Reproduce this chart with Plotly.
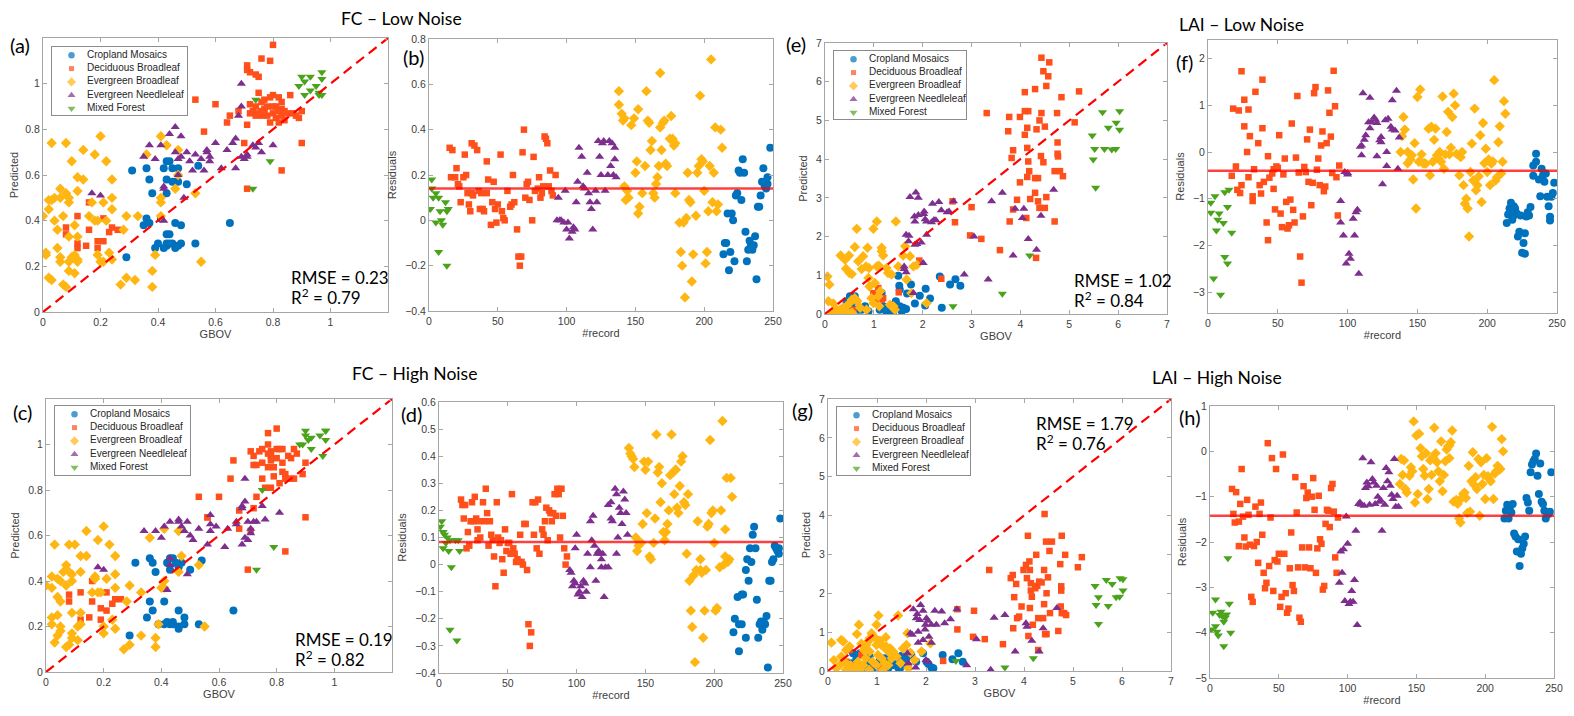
"""Eight-panel validation figure: predicted vs GBOV and residuals per record."""

import plotly.graph_objects as go

W, H = 1574, 716
PAGE_PAD = 8  # default body margin of the written page
FIG_W, FIG_H = W - 2 * PAGE_PAD, H - 2 * PAGE_PAD

CLASSES = ["Cropland Mosaics", "Deciduous Broadleaf", "Evergreen Broadleaf",
           "Evergreen Needleleaf", "Mixed Forest"]
COLORS = ["#0072BD", "#FF4F1A", "#FFB612", "#7E2F8E", "#4BA31C"]
SYMBOLS = ["circle", "square", "diamond", "triangle-up", "triangle-down"]
SIZES = [8, 6.5, 8, 8, 8]
LEGEND_SIZES = [6.5, 5, 7, 7, 7]

# ---------------- (a) FC - low noise: (GBOV, predicted) ----------------
A_CROP = [(0.31, 0.62), (0.36, 0.63), (0.37, 0.58), (0.38, 0.52), (0.42, 0.63), (0.43, 0.66),
          (0.44, 0.66), (0.45, 0.63), (0.43, 0.58), (0.45, 0.57), (0.46, 0.57), (0.47, 0.57),
          (0.47, 0.63), (0.50, 0.56), (0.54, 0.64), (0.43, 0.52), (0.36, 0.41), (0.35, 0.38),
          (0.37, 0.39), (0.41, 0.41), (0.46, 0.39), (0.48, 0.38), (0.39, 0.28), (0.40, 0.30),
          (0.42, 0.28), (0.43, 0.30), (0.44, 0.34), (0.43, 0.34), (0.45, 0.30), (0.46, 0.28),
          (0.47, 0.29), (0.48, 0.30), (0.53, 0.30), (0.29, 0.24), (0.65, 0.39), (0.44, 0.30),
          (0.43, 0.29)]
A_DEC = [(0.53, 0.93), (0.60, 0.91), (0.64, 0.83), (0.65, 0.86), (0.56, 0.79), (0.68, 0.88),
         (0.71, 1.08), (0.71, 1.06), (0.72, 1.05), (0.74, 1.04), (0.75, 1.03), (0.76, 1.11),
         (0.79, 1.10), (0.80, 1.17), (0.71, 0.82), (0.70, 0.74), (0.71, 0.54), (0.83, 0.62),
         (0.90, 0.74), (0.86, 0.95), (0.90, 0.88), (0.89, 0.85), (0.84, 0.84), (0.82, 0.83),
         (0.72, 0.87), (0.73, 0.88), (0.74, 0.90), (0.75, 0.96), (0.76, 0.92), (0.77, 0.93),
         (0.78, 0.90), (0.79, 0.94), (0.80, 0.95), (0.81, 0.90), (0.82, 0.94), (0.83, 0.89),
         (0.84, 0.88), (0.85, 0.87), (0.87, 0.87), (0.74, 0.87), (0.76, 0.88), (0.78, 0.86),
         (0.80, 0.87), (0.81, 0.85), (0.82, 0.88), (0.79, 0.83), (0.76, 0.86), (0.74, 0.86),
         (0.88, 0.86), (0.77, 0.88), (0.83, 0.86), (0.80, 0.90), (0.72, 0.91), (0.77, 0.89),
         (0.83, 0.92), (0.08, 0.37), (0.08, 0.34), (0.12, 0.42), (0.12, 0.30), (0.12, 0.28),
         (0.15, 0.29), (0.16, 0.48), (0.16, 0.36), (0.19, 0.31), (0.19, 0.28), (0.21, 0.41),
         (0.21, 0.31), (0.23, 0.35), (0.24, 0.37), (0.26, 0.36)]
A_EB = [(0.00, 0.42), (0.02, 0.45), (0.02, 0.49), (0.03, 0.49), (0.03, 0.74), (0.08, 0.74),
        (0.10, 0.66), (0.14, 0.71), (0.20, 0.77), (0.18, 0.69), (0.22, 0.66), (0.14, 0.58),
        (0.12, 0.59), (0.06, 0.54), (0.04, 0.50), (0.06, 0.50), (0.08, 0.52), (0.09, 0.50),
        (0.09, 0.48), (0.12, 0.53), (0.17, 0.48), (0.21, 0.48), (0.24, 0.58), (0.24, 0.50),
        (0.24, 0.45), (0.16, 0.42), (0.18, 0.40), (0.19, 0.40), (0.04, 0.40), (0.07, 0.42),
        (0.05, 0.36), (0.09, 0.33), (0.11, 0.38), (0.12, 0.33), (0.29, 0.42), (0.33, 0.42),
        (0.28, 0.36), (0.22, 0.40), (0.05, 0.28), (0.01, 0.26), (0.01, 0.25), (0.06, 0.24),
        (0.06, 0.22), (0.09, 0.22), (0.10, 0.24), (0.11, 0.25), (0.12, 0.23), (0.12, 0.22),
        (0.09, 0.18), (0.11, 0.17), (0.19, 0.25), (0.20, 0.22), (0.23, 0.26), (0.24, 0.23),
        (0.02, 0.15), (0.03, 0.14), (0.07, 0.12), (0.08, 0.11), (0.27, 0.12), (0.29, 0.15),
        (0.32, 0.14), (0.38, 0.18), (0.38, 0.11), (0.39, 0.25), (0.55, 0.22), (0.41, 0.77),
        (0.43, 0.73), (0.36, 0.69), (0.47, 0.71), (0.47, 0.60), (0.46, 0.54), (0.41, 0.50),
        (0.41, 0.48), (0.41, 0.42), (0.53, 0.52), (0.21, 0.22)]
A_EN = [(0.35, 0.68), (0.37, 0.73), (0.39, 0.67), (0.41, 0.73), (0.44, 0.78), (0.46, 0.81),
        (0.48, 0.77), (0.46, 0.70), (0.47, 0.67), (0.48, 0.68), (0.50, 0.70), (0.51, 0.66),
        (0.53, 0.69), (0.55, 0.67), (0.56, 0.62), (0.57, 0.70), (0.58, 0.68), (0.58, 0.66),
        (0.60, 0.74), (0.62, 0.63), (0.64, 0.71), (0.66, 0.74), (0.67, 0.76), (0.67, 0.63),
        (0.69, 0.68), (0.70, 0.67), (0.71, 0.68), (0.73, 0.73), (0.75, 0.74), (0.76, 0.70),
        (0.80, 0.73), (0.69, 0.90), (0.69, 1.00), (0.68, 0.86), (0.17, 0.52), (0.20, 0.51),
        (0.42, 0.54), (0.42, 0.55), (0.49, 0.50), (0.42, 0.40), (0.52, 0.62), (0.47, 0.60),
        (0.57, 0.71), (0.74, 0.72), (0.71, 0.69)]
A_MF = [(0.89, 0.99), (0.90, 1.03), (0.91, 1.01), (0.93, 1.03), (0.91, 0.95), (0.93, 0.97),
        (0.95, 0.99), (0.96, 0.95), (0.97, 0.95), (0.97, 1.02), (0.97, 1.05), (0.74, 0.93),
        (0.73, 0.54), (0.79, 0.66), (0.96, 0.96)]

# ---------------- (b) FC - low noise: (record, residual) ----------------
B_CROP = [(214, -0.15), (215, -0.10), (216, -0.10), (217, 0.03), (218, -0.22), (219, -0.14),
          (220, 0.03), (221, 0.00), (222, -0.18), (223, 0.11), (224, 0.12), (225, 0.22),
          (226, 0.21), (227, 0.09), (228, 0.27), (229, 0.21), (230, -0.05), (231, -0.18),
          (232, -0.13), (233, -0.09), (234, -0.11), (235, -0.13), (236, -0.11), (237, -0.07),
          (238, -0.26), (239, 0.06), (240, 0.06), (241, 0.11), (242, 0.17), (243, 0.23),
          (244, 0.15), (245, 0.14), (246, 0.19), (248, 0.32), (246, 0.16)]
B_DEC = [(15, 0.32), (17, 0.31), (16, 0.19), (19, 0.19), (20, 0.23), (21, 0.16), (22, 0.15),
         (23, 0.08), (25, 0.19), (26, 0.29), (27, 0.20), (28, 0.12), (29, 0.07), (30, 0.04),
         (31, 0.12), (31, 0.34), (32, 0.11), (33, 0.33), (35, 0.31), (36, 0.13), (37, 0.05),
         (38, 0.12), (39, 0.05), (40, 0.04), (42, 0.26), (42, 0.12), (43, 0.18), (45, -0.02),
         (46, 0.08), (47, 0.17), (48, 0.05), (49, -0.01), (50, 0.07), (52, 0.29), (53, 0.04),
         (54, 0.01), (55, 0.00), (57, 0.13), (59, 0.06), (60, 0.07), (61, 0.20), (62, 0.08),
         (64, -0.04), (65, -0.16), (66, -0.20), (67, -0.16), (68, 0.30), (69, 0.40), (70, 0.10),
         (71, 0.16), (72, 0.17), (73, 0.09), (75, 0.00), (76, 0.28), (77, 0.13), (79, 0.14),
         (80, 0.19), (81, 0.10), (82, 0.12), (83, 0.15), (84, 0.37), (85, 0.36), (86, 0.34),
         (87, 0.15), (88, 0.22), (89, 0.13), (90, 0.11), (92, 0.20)]
B_EB = [(138, 0.57), (138, 0.51), (140, 0.47), (141, 0.44), (142, 0.45), (142, 0.15), (143, 0.09),
        (144, 0.13), (145, 0.10), (147, 0.42), (149, 0.45), (150, 0.21), (151, 0.26), (152, 0.49),
        (152, 0.03), (153, 0.06), (155, 0.12), (157, 0.24), (158, 0.57), (159, 0.44), (160, 0.43),
        (161, 0.31), (162, 0.35), (163, 0.12), (164, 0.10), (165, 0.16), (166, 0.19), (167, 0.24),
        (168, 0.65), (168, 0.41), (169, 0.31), (170, 0.43), (171, 0.44), (172, 0.25), (173, 0.24),
        (175, 0.36), (176, 0.46), (177, 0.36), (178, 0.33), (179, 0.34), (179, 0.12), (182, -0.01),
        (183, -0.14), (184, -0.20), (185, -0.01), (186, -0.34), (187, 0.01), (188, 0.21),
        (189, 0.09), (190, 0.08), (191, -0.27), (192, -0.15), (194, 0.02), (195, 0.21),
        (196, 0.24), (197, 0.55), (198, 0.27), (199, 0.26), (200, 0.13), (201, -0.19),
        (202, -0.14), (203, 0.04), (204, 0.24), (205, 0.71), (206, 0.08), (207, 0.21), (208, 0.41),
        (209, 0.04), (210, 0.07), (212, 0.40), (213, 0.32)]
B_EN = [(94, 0.10), (93, 0.00), (95, 0.00), (96, 0.00), (98, -0.01), (99, 0.13), (100, -0.04),
        (101, -0.01), (102, -0.08), (104, -0.05), (105, -0.03), (106, -0.04), (107, 0.08),
        (108, 0.17), (109, 0.32), (111, 0.28), (112, 0.15), (113, 0.14), (115, 0.21), (116, 0.12),
        (117, 0.08), (118, 0.05), (119, -0.04), (121, 0.13), (122, 0.08), (123, 0.35), (124, 0.28),
        (125, 0.20), (126, 0.34), (127, 0.35), (128, 0.13), (130, 0.20), (131, 0.35), (132, 0.24),
        (133, 0.34), (134, 0.20), (135, 0.32), (135, 0.27), (136, 0.19)]
B_MF = [(1, 0.05), (2, 0.18), (2, 0.14), (3, 0.10), (5, 0.12), (5, -0.01), (7, 0.10), (8, 0.04),
        (9, 0.00), (10, -0.02), (12, 0.08), (13, 0.04), (14, 0.05), (7, -0.14), (13, -0.20)]

# ---------------- (e) LAI - low noise: (GBOV, predicted) ----------------
E_CROP = [(1.50, 0.99), (1.52, 0.73), (1.53, 0.63), (1.45, 0.33), (1.40, 0.20), (1.53, 0.20),
          (1.60, 0.16), (1.66, 0.13), (1.76, 0.76), (1.68, 0.53), (1.94, 0.47), (2.06, 0.65),
          (2.15, 0.40), (2.05, 0.22), (2.35, 0.97), (2.39, 0.16), (2.56, 0.76), (2.67, 0.90),
          (2.77, 0.73), (0.51, 0.46), (0.61, 0.46), (0.65, 0.33), (0.75, 0.11), (0.82, 0.20),
          (0.89, 0.07), (1.12, 0.11), (1.19, 0.20), (1.26, 0.04), (1.40, 0.07), (0.55, 0.16),
          (0.68, 0.11), (0.44, 0.33), (1.16, 0.54), (1.06, 0.39), (1.33, 0.09), (1.84, 0.27),
          (1.57, 0.07)]
E_DEC = [(3.31, 5.19), (3.77, 5.09), (3.99, 5.09), (4.09, 5.24), (4.16, 5.24), (4.14, 4.81),
         (4.09, 4.63), (4.14, 4.29), (4.16, 3.94), (4.18, 3.69), (4.14, 3.54), (4.20, 2.97),
         (4.30, 3.13), (4.30, 3.51), (4.33, 4.77), (4.39, 5.00), (4.43, 5.19), (4.43, 6.62),
         (4.47, 6.27), (4.57, 6.14), (4.59, 6.50), (4.53, 5.89), (4.30, 5.81), (4.09, 5.73),
         (4.50, 4.84), (4.42, 4.08), (4.47, 3.92), (4.36, 3.51), (4.36, 2.91), (4.39, 2.74),
         (4.50, 2.74), (4.53, 3.02), (4.75, 5.19), (4.76, 4.43), (4.76, 4.14), (4.77, 4.07),
         (4.70, 3.69), (4.81, 3.69), (4.87, 3.56), (4.84, 5.60), (5.11, 4.95), (5.20, 5.75),
         (3.75, 4.72), (3.82, 4.03), (3.85, 4.23), (3.93, 2.95), (3.99, 3.40), (3.85, 2.70),
         (3.78, 2.39), (4.12, 2.48), (4.32, 1.45), (4.70, 2.39), (3.00, 2.76), (2.97, 2.03),
         (3.20, 1.94), (3.58, 1.65), (2.66, 2.37), (2.61, 2.91), (1.93, 1.38), (2.38, 0.91),
         (1.51, 0.56), (1.09, 0.67), (0.99, 0.54), (1.06, 0.46), (1.16, 0.37), (1.02, 0.33),
         (0.52, 0.03), (0.58, 0.11), (1.19, 0.41)]
E_EB = [(0.07, 0.33), (0.17, 0.27), (0.05, 0.97), (0.09, 0.76), (0.32, 1.51), (0.41, 1.40),
        (0.49, 1.51), (0.43, 1.17), (0.65, 2.20), (0.61, 1.73), (0.68, 1.36), (0.50, 1.06),
        (0.55, 1.03), (0.75, 1.16), (0.78, 1.49), (0.87, 1.71), (0.84, 1.23), (0.90, 1.19),
        (0.91, 0.71), (0.99, 2.20), (1.06, 2.39), (1.06, 1.23), (1.10, 1.25), (1.16, 1.71),
        (1.19, 1.51), (1.16, 1.62), (1.26, 1.19), (1.29, 1.06), (1.36, 1.02), (1.45, 2.39),
        (1.50, 1.23), (1.60, 1.51), (1.64, 1.75), (1.67, 0.89), (1.74, 1.49), (1.81, 1.23),
        (1.88, 1.27), (1.77, 0.54), (2.08, 0.28), (1.13, 0.59), (0.20, 0.07), (0.31, 0.11),
        (0.37, 0.16), (0.44, 0.20), (0.50, 0.28), (0.55, 0.37), (0.61, 0.41), (0.66, 0.33),
        (0.44, 0.07), (0.55, 0.04), (0.24, 0.11), (0.72, 0.16), (0.85, 0.11), (1.11, 0.20),
        (1.40, 0.20), (1.43, 0.11), (1.33, 0.24), (0.99, 0.28), (0.95, 0.41), (1.09, 0.46),
        (0.34, 0.03), (0.15, 0.03), (1.02, 0.80), (0.89, 0.93)]
E_EN = [(1.74, 3.02), (1.86, 3.14), (1.91, 3.00), (1.83, 2.52), (1.84, 2.39), (1.91, 2.56),
        (2.02, 2.58), (2.03, 2.65), (2.05, 2.45), (2.08, 2.39), (2.18, 2.37), (2.20, 2.85),
        (2.23, 2.43), (2.27, 2.42), (2.33, 2.89), (2.38, 2.68), (2.50, 2.63), (2.54, 2.65),
        (2.63, 2.91), (1.66, 2.05), (1.72, 2.02), (1.71, 1.88), (1.84, 1.79), (1.88, 1.81),
        (1.97, 1.85), (2.08, 2.05), (1.62, 1.23), (1.66, 1.08), (2.01, 1.32), (1.81, 0.54),
        (3.05, 2.00), (3.41, 2.91), (3.63, 3.13), (3.89, 2.72), (3.85, 1.51), (4.07, 2.72),
        (4.04, 2.48), (4.16, 1.94), (4.42, 2.54), (4.33, 1.66), (4.68, 3.21), (3.34, 0.89),
        (2.85, 1.02), (1.62, 1.16)]
E_MF = [(5.47, 4.61), (5.68, 5.21), (5.80, 4.81), (5.52, 4.26), (5.49, 3.99), (5.72, 4.26),
        (5.87, 4.25), (5.95, 4.26), (5.96, 4.94), (6.03, 5.24), (6.03, 4.76), (5.54, 3.26),
        (4.19, 1.51), (3.63, 0.52), (2.62, 0.20)]

# ---------------- (f) LAI - low noise: (record, residual) ----------------
F_CROP = [(214, -1.52), (215, -1.34), (216, -1.21), (217, -1.09), (218, -1.45), (219, -1.16),
          (219, -1.36), (220, -1.21), (221, -1.31), (222, -1.81), (223, -1.71), (224, -1.36),
          (225, -2.16), (226, -1.95), (227, -2.18), (227, -1.74), (228, -1.38), (229, -1.29),
          (230, -1.36), (231, -1.18), (233, -0.51), (233, -0.29), (235, -0.21), (235, -0.04),
          (237, -0.59), (238, -0.95), (239, -0.36), (240, -0.50), (241, -0.64), (242, -0.46),
          (243, -0.96), (244, -1.16), (245, -1.39), (246, -0.96), (247, -0.88), (248, -0.66),
          (245, -1.47)]
F_DEC = [(17, -0.51), (18, 0.93), (20, -0.31), (21, -0.81), (22, 0.89), (23, -0.88), (24, -0.71),
         (24, 1.73), (26, 1.12), (26, 0.55), (28, 0.00), (29, -0.54), (29, 0.91), (30, 0.34),
         (32, -0.95), (32, -1.05), (33, -0.37), (34, 1.29), (36, 0.19), (37, -0.71), (38, -0.89),
         (39, 1.55), (39, 0.51), (40, -0.64), (42, -1.51), (43, -1.89), (43, -0.09), (44, -0.55),
         (46, -0.46), (47, -0.37), (47, -0.79), (48, -1.23), (49, -0.31), (50, -0.34), (51, 0.36),
         (52, -1.32), (53, -1.61), (54, -0.48), (55, -0.14), (56, -1.07), (57, -1.64), (58, -1.57),
         (59, -1.02), (60, 0.61), (61, -1.24), (62, -1.51), (63, -0.12), (64, 1.20), (65, -0.44),
         (66, -2.24), (67, -2.80), (68, -1.38), (69, -0.32), (70, -0.43), (71, 0.27), (72, -0.64),
         (73, 0.48), (74, -1.14), (75, -0.66), (76, 1.26), (77, 1.39), (78, -0.38), (79, -0.14),
         (80, -0.71), (81, 0.14), (82, 0.44), (83, -0.84), (84, -0.74), (85, 0.19), (86, 1.32),
         (87, 0.84), (88, 0.33), (89, -0.45), (90, 1.74), (91, 0.98), (92, -0.54), (93, -1.36),
         (94, -0.29)]
F_EB = [(138, 0.00), (139, 0.34), (140, 0.75), (141, 0.48), (143, 0.00), (143, -0.24), (145, -0.16),
        (146, -0.07), (147, -0.59), (148, 0.19), (149, -1.21), (150, 1.18), (151, -0.21),
        (152, 1.34), (153, -0.05), (154, -0.24), (155, -0.24), (156, -0.25), (158, 0.50),
        (159, -0.50), (160, 0.54), (161, -0.21), (162, 0.26), (163, 0.50), (164, -0.07),
        (165, -0.14), (166, 0.00), (167, -0.21), (168, 1.19), (169, -0.36), (170, -0.05),
        (171, 0.43), (172, 0.86), (173, -0.05), (174, 0.09), (175, 0.75), (176, 1.25), (177, 1.00),
        (178, -0.04), (180, -0.50), (181, -0.11), (182, 0.00), (183, -0.71), (184, -1.11),
        (185, -1.00), (186, -1.21), (187, -1.81), (188, -0.43), (189, 0.18), (190, -0.61),
        (191, 0.93), (192, -0.82), (193, -0.71), (194, -0.52), (195, 0.36), (196, -1.07),
        (197, 0.62), (198, -0.24), (199, 0.07), (200, -0.43), (201, -0.16), (202, -0.71),
        (203, -0.25), (204, -0.20), (205, 1.54), (206, -0.61), (207, -0.54), (208, 0.21),
        (209, 0.55), (210, -0.46), (211, -0.21), (212, 1.09), (213, 0.82)]
F_EN = [(95, -1.05), (95, -1.51), (97, -1.79), (98, -0.43), (99, -2.39), (100, -0.48), (100, -0.45),
        (101, -2.18), (102, -2.29), (104, -1.43), (105, -1.79), (106, -1.29), (107, -1.24),
        (108, -2.61), (109, 0.11), (110, 0.14), (110, -0.07), (111, 1.26), (112, 0.26), (113, 0.36),
        (115, 0.64), (116, 0.51), (116, 1.16), (117, 0.64), (119, 0.74), (120, 0.69), (121, -0.09),
        (121, 0.62), (123, 0.25), (124, 0.32), (124, 0.21), (125, -0.69), (127, 0.68), (128, 0.00),
        (128, -0.30), (129, 0.71), (131, 0.54), (132, 0.48), (132, 1.11), (134, 0.46), (135, 1.31),
        (136, -0.36), (137, 0.31)]
F_MF = [(2, -1.09), (2, -1.30), (4, -2.71), (5, -0.95), (7, -1.45), (8, -1.32), (6, -1.68),
        (9, -3.06), (11, -1.52), (12, -0.86), (12, -2.25), (14, -1.18), (14, -2.39), (15, -0.81),
        (17, -1.73)]

# ---------------- (c) FC - high noise: (GBOV, predicted) ----------------
C_CROP = [(0.31, 0.48), (0.36, 0.50), (0.37, 0.48), (0.38, 0.44), (0.42, 0.48), (0.43, 0.50),
          (0.44, 0.50), (0.45, 0.48), (0.46, 0.46), (0.47, 0.48), (0.50, 0.45), (0.54, 0.49),
          (0.43, 0.45), (0.36, 0.31), (0.41, 0.31), (0.37, 0.27), (0.35, 0.24), (0.39, 0.21),
          (0.41, 0.21), (0.42, 0.22), (0.44, 0.22), (0.44, 0.21), (0.46, 0.20), (0.46, 0.19),
          (0.48, 0.21), (0.48, 0.24), (0.46, 0.27), (0.53, 0.21), (0.29, 0.16), (0.65, 0.27),
          (0.43, 0.21)]
C_DEC = [(0.65, 0.93), (0.64, 0.85), (0.53, 0.77), (0.60, 0.77), (0.56, 0.68), (0.67, 0.71),
         (0.67, 0.63), (0.71, 0.62), (0.70, 0.45), (0.72, 0.72), (0.73, 0.77), (0.71, 0.97),
         (0.72, 0.95), (0.73, 0.91), (0.74, 0.97), (0.75, 0.98), (0.75, 0.85), (0.76, 0.81),
         (0.77, 0.90), (0.77, 1.05), (0.77, 1.00), (0.78, 0.97), (0.78, 0.95), (0.78, 0.81),
         (0.79, 0.90), (0.79, 0.86), (0.80, 0.98), (0.80, 1.07), (0.80, 0.94), (0.81, 0.83),
         (0.81, 0.98), (0.82, 0.92), (0.82, 0.88), (0.83, 0.87), (0.83, 0.85), (0.84, 0.95),
         (0.85, 0.85), (0.86, 0.85), (0.86, 0.98), (0.87, 0.96), (0.89, 0.87), (0.90, 0.92),
         (0.90, 0.68), (0.83, 0.53), (0.82, 0.98), (0.78, 0.93), (0.72, 0.91), (0.77, 0.96),
         (0.85, 0.94), (0.75, 0.92), (0.08, 0.34), (0.08, 0.31), (0.12, 0.35), (0.12, 0.23),
         (0.15, 0.24), (0.16, 0.40), (0.16, 0.31), (0.19, 0.28), (0.19, 0.23), (0.21, 0.35),
         (0.21, 0.27), (0.23, 0.30), (0.24, 0.32), (0.26, 0.32), (0.56, 0.68)]
C_EB = [(0.00, 0.38), (0.02, 0.37), (0.02, 0.42), (0.03, 0.56), (0.04, 0.41), (0.05, 0.40),
        (0.06, 0.44), (0.07, 0.47), (0.07, 0.38), (0.08, 0.44), (0.08, 0.56), (0.09, 0.40),
        (0.10, 0.56), (0.09, 0.43), (0.12, 0.51), (0.12, 0.44), (0.14, 0.62), (0.14, 0.51),
        (0.18, 0.58), (0.20, 0.64), (0.22, 0.56), (0.24, 0.51), (0.17, 0.41), (0.17, 0.42),
        (0.18, 0.35), (0.19, 0.35), (0.21, 0.41), (0.16, 0.35), (0.24, 0.43), (0.24, 0.37),
        (0.04, 0.33), (0.05, 0.31), (0.04, 0.25), (0.02, 0.24), (0.02, 0.21), (0.04, 0.16),
        (0.03, 0.13), (0.05, 0.20), (0.05, 0.18), (0.07, 0.11), (0.08, 0.12), (0.09, 0.15),
        (0.09, 0.17), (0.09, 0.26), (0.11, 0.20), (0.11, 0.14), (0.12, 0.21), (0.12, 0.26),
        (0.20, 0.20), (0.20, 0.17), (0.23, 0.23), (0.24, 0.19), (0.28, 0.31), (0.29, 0.38),
        (0.29, 0.12), (0.27, 0.10), (0.33, 0.16), (0.33, 0.35), (0.38, 0.15), (0.38, 0.11),
        (0.36, 0.59), (0.39, 0.21), (0.40, 0.37), (0.41, 0.40), (0.41, 0.37), (0.46, 0.44),
        (0.47, 0.51), (0.46, 0.62), (0.53, 0.47), (0.55, 0.20), (0.41, 0.63)]
C_EN = [(0.34, 0.62), (0.38, 0.62), (0.40, 0.59), (0.41, 0.64), (0.43, 0.66), (0.46, 0.67),
        (0.46, 0.66), (0.47, 0.64), (0.49, 0.66), (0.48, 0.62), (0.50, 0.60), (0.51, 0.58),
        (0.53, 0.63), (0.57, 0.69), (0.57, 0.65), (0.56, 0.56), (0.57, 0.62), (0.59, 0.64),
        (0.62, 0.55), (0.63, 0.63), (0.66, 0.66), (0.68, 0.56), (0.68, 0.73), (0.69, 0.75),
        (0.70, 0.66), (0.71, 0.61), (0.71, 0.63), (0.72, 0.66), (0.73, 0.66), (0.75, 0.73),
        (0.76, 0.67), (0.81, 0.70), (0.69, 0.85), (0.18, 0.46), (0.20, 0.45), (0.43, 0.50),
        (0.43, 0.47), (0.42, 0.36), (0.49, 0.43), (0.69, 0.59), (0.68, 0.72), (0.66, 0.65),
        (0.70, 0.58)]
C_MF = [(0.90, 1.06), (0.90, 1.04), (0.89, 1.00), (0.91, 1.02), (0.92, 1.03), (0.95, 1.04),
        (0.97, 1.06), (0.97, 1.06), (0.97, 1.02), (0.92, 0.98), (0.96, 0.95), (0.75, 0.80),
        (0.79, 0.55), (0.73, 0.45), (0.88, 1.00)]

# ---------------- (d) FC - high noise: (record, residual) ----------------
D_CROP = [(214, -0.25), (215, -0.20), (217, -0.12), (218, -0.22), (218, -0.32), (220, -0.22),
          (220, -0.11), (221, -0.11), (223, -0.27), (223, -0.02), (224, 0.02), (225, -0.06),
          (226, 0.06), (227, 0.01), (228, 0.11), (229, 0.14), (230, 0.06), (231, -0.13),
          (232, -0.27), (233, -0.22), (234, -0.21), (235, -0.24), (236, -0.21), (237, -0.22),
          (238, -0.19), (239, -0.38), (240, -0.06), (241, -0.06), (242, 0.01), (243, 0.02),
          (244, 0.07), (245, 0.06), (246, 0.05), (247, 0.06), (248, 0.17), (247, 0.04)]
D_DEC = [(16, 0.24), (17, 0.22), (18, 0.17), (19, 0.22), (20, 0.06), (21, 0.12), (22, 0.07),
         (23, 0.16), (24, 0.23), (25, 0.16), (26, 0.25), (27, 0.17), (28, 0.13), (28, 0.09),
         (29, 0.16), (30, 0.10), (32, 0.23), (33, 0.16), (34, 0.28), (35, 0.19), (36, 0.07),
         (37, 0.16), (38, 0.11), (39, 0.09), (40, 0.03), (41, -0.08), (42, 0.23), (43, 0.10),
         (44, 0.08), (45, 0.09), (46, 0.02), (47, -0.03), (48, 0.13), (49, 0.05), (50, 0.08),
         (51, 0.08), (52, 0.04), (53, 0.26), (54, 0.06), (55, 0.04), (56, 0.01), (57, 0.02),
         (58, 0.01), (59, 0.11), (60, 0.01), (61, 0.00), (62, 0.15), (63, 0.15), (64, -0.02),
         (65, -0.22), (67, -0.25), (66, -0.30), (68, 0.23), (69, 0.11), (70, 0.23), (72, 0.24),
         (71, 0.06), (73, 0.04), (75, 0.13), (76, 0.11), (77, 0.16), (78, 0.21), (79, 0.09),
         (80, 0.20), (81, 0.19), (82, 0.16), (83, 0.19), (84, 0.26), (85, 0.18), (86, 0.28),
         (87, 0.26), (88, 0.10), (89, 0.28), (90, 0.18), (91, 0.06), (92, 0.00), (93, 0.03)]
D_EB = [(138, 0.43), (139, 0.41), (140, 0.40), (141, 0.39), (142, 0.36), (143, 0.10), (144, 0.05),
        (145, 0.07), (146, 0.08), (147, 0.08), (148, 0.15), (149, 0.38), (150, 0.35), (151, 0.19),
        (152, 0.38), (153, 0.03), (154, 0.02), (156, 0.08), (157, 0.17), (158, 0.48), (159, 0.34),
        (160, 0.36), (161, 0.23), (162, 0.30), (163, 0.12), (164, 0.09), (165, 0.12), (166, 0.15),
        (167, 0.20), (168, 0.33), (169, 0.48), (170, 0.34), (171, 0.26), (172, 0.35), (172, 0.35),
        (173, 0.21), (174, 0.19), (175, 0.29), (176, 0.38), (177, 0.40), (178, 0.23), (179, 0.22),
        (180, 0.04), (181, 0.26), (182, -0.06), (183, -0.17), (184, -0.23), (185, -0.04),
        (186, -0.36), (187, -0.02), (188, 0.16), (190, 0.02), (190, -0.02), (191, -0.03),
        (192, -0.27), (193, -0.17), (194, -0.02), (195, 0.14), (196, 0.15), (197, 0.46),
        (198, 0.19), (199, 0.20), (200, 0.08), (201, -0.17), (202, -0.16), (204, -0.01),
        (205, 0.20), (206, 0.53), (207, 0.00), (208, 0.03), (208, 0.13), (209, 0.32), (210, 0.01),
        (211, 0.02), (212, 0.32), (213, 0.25)]
D_EN = [(95, -0.02), (96, -0.03), (97, -0.08), (98, -0.06), (99, -0.07), (100, 0.11), (99, 0.06),
        (101, -0.11), (102, -0.10), (103, -0.08), (104, -0.12), (105, -0.06), (106, -0.07),
        (107, -0.10), (108, 0.04), (110, -0.01), (110, 0.16), (111, 0.09), (112, 0.18), (113, 0.07),
        (114, -0.06), (115, 0.04), (116, 0.05), (117, 0.04), (118, 0.02), (118, -0.01), (119, 0.04),
        (120, -0.12), (121, -0.01), (123, -0.01), (123, 0.22), (125, 0.23), (125, 0.17),
        (126, 0.16), (128, 0.28), (129, 0.26), (129, 0.04), (130, 0.10), (131, 0.21), (132, 0.19),
        (133, 0.15), (134, 0.27), (135, 0.24), (136, 0.19), (137, 0.11)]
D_MF = [(1, 0.14), (2, 0.16), (3, 0.12), (4, 0.11), (5, 0.08), (6, 0.10), (3, 0.06), (7, 0.05),
        (8, 0.09), (9, -0.01), (8, -0.24), (13, -0.28), (12, 0.09), (14, 0.09), (15, 0.05)]

# ---------------- (g) LAI - high noise: (GBOV, predicted) ----------------
G_CROP = [(0.51, 0.46), (0.65, 0.46), (0.58, 0.33), (0.68, 0.15), (0.85, 0.37), (0.82, 0.24),
          (0.99, 0.15), (1.09, 0.13), (1.19, 0.24), (1.23, 0.07), (1.30, 0.15), (1.40, 0.28),
          (1.43, 0.09), (1.50, 0.39), (1.53, 0.28), (1.57, 0.21), (1.67, 0.46), (1.60, 0.33),
          (1.80, 0.24), (1.94, 0.46), (2.01, 0.24), (2.05, 0.18), (2.11, 0.09), (2.34, 0.41),
          (2.54, 0.30), (2.66, 0.46), (2.75, 0.24), (1.33, 0.24), (1.70, 0.41), (0.92, 0.07),
          (1.06, 0.30), (1.16, 0.33), (1.47, 0.07), (0.48, 0.20), (0.58, 0.07), (0.78, 0.07),
          (2.15, 0.07)]
G_DEC = [(3.29, 2.60), (2.98, 1.55), (2.64, 1.59), (2.64, 1.07), (2.35, 0.26), (2.96, 0.88),
         (3.20, 0.82), (3.57, 0.69), (3.73, 2.39), (3.77, 2.47), (3.84, 2.24), (3.80, 1.90),
         (3.78, 1.10), (3.86, 1.36), (3.90, 1.40), (3.95, 1.66), (3.99, 2.60), (4.04, 2.73),
         (4.08, 3.48), (4.06, 2.39), (4.11, 2.82), (4.12, 2.60), (4.14, 2.07), (4.14, 2.26),
         (4.16, 1.91), (4.12, 1.62), (4.09, 0.90), (4.18, 1.19), (4.23, 2.13), (4.25, 2.99),
         (4.27, 2.19), (4.29, 1.36), (4.31, 2.30), (4.29, 0.54), (4.36, 2.28), (4.39, 1.36),
         (4.41, 2.60), (4.42, 4.04), (4.41, 1.72), (4.43, 0.95), (4.46, 0.95), (4.45, 3.33),
         (4.46, 2.00), (4.49, 2.41), (4.52, 3.09), (4.53, 1.49), (4.57, 3.33), (4.70, 1.03),
         (4.74, 2.75), (4.75, 1.66), (4.76, 2.18), (4.76, 2.07), (4.77, 3.48), (4.77, 1.49),
         (4.82, 1.49), (4.84, 2.99), (4.86, 1.44), (5.10, 2.67), (5.18, 2.93), (0.37, 0.24),
         (0.68, 0.41), (0.95, 0.17), (1.06, 0.07), (1.64, 0.13), (0.44, 0.54)]
G_EB = [(0.07, 0.73), (0.27, 0.80), (0.31, 0.76), (0.37, 0.54), (0.44, 0.63), (0.59, 0.95),
        (0.63, 1.19), (0.68, 0.70), (0.73, 0.54), (0.75, 0.67), (0.82, 0.76), (0.85, 0.84),
        (0.89, 0.97), (0.95, 0.87), (0.99, 1.19), (1.03, 1.43), (1.06, 0.78), (1.13, 0.63),
        (1.18, 0.87), (1.19, 0.63), (1.23, 0.50), (1.27, 0.58), (1.33, 0.50), (1.36, 0.41),
        (1.43, 1.43), (1.53, 0.58), (1.60, 0.67), (1.62, 0.97), (1.68, 0.47), (1.77, 0.28),
        (1.91, 0.50), (2.09, 0.71), (0.12, 0.28), (0.17, 0.07), (0.24, 0.15), (0.27, 0.37),
        (0.34, 0.24), (0.41, 0.07), (0.46, 0.15), (0.51, 0.03), (0.61, 0.24), (0.65, 0.03),
        (0.72, 0.15), (0.77, 0.33), (0.84, 0.03), (0.91, 0.24), (0.99, 0.15), (1.02, 0.41),
        (1.09, 0.33), (1.12, 0.03), (1.23, 0.15), (1.30, 0.33), (1.40, 0.37), (1.48, 0.20),
        (1.64, 0.07), (0.85, 0.50), (0.37, 0.03), (0.58, 0.15), (1.16, 0.20), (0.78, 0.67),
        (0.99, 0.67), (1.09, 0.67)]
G_EN = [(1.74, 1.59), (1.89, 1.70), (1.82, 1.47), (1.94, 1.55), (1.80, 1.36), (1.87, 1.31),
        (2.01, 1.36), (1.99, 1.19), (2.11, 1.19), (2.18, 1.55), (2.21, 1.19), (2.32, 1.53),
        (2.38, 1.23), (2.50, 1.33), (2.63, 1.59), (2.04, 1.29), (1.68, 0.97), (1.72, 0.93),
        (1.84, 1.01), (1.98, 1.07), (1.84, 0.73), (1.94, 0.80), (2.06, 0.88), (2.11, 0.73),
        (2.00, 0.28), (2.04, 0.24), (1.62, 0.46), (1.64, 0.20), (1.79, 0.09), (2.83, 0.15),
        (3.03, 0.82), (3.39, 1.37), (3.61, 1.44), (3.82, 0.50), (4.04, 1.23), (4.06, 1.14),
        (4.16, 0.78), (4.31, 0.50), (4.39, 1.10), (4.67, 1.62), (3.32, 0.03)]
G_MF = [(5.45, 2.19), (5.52, 1.90), (5.47, 1.70), (5.52, 1.21), (5.68, 2.34), (5.72, 1.67),
        (5.80, 2.24), (5.88, 1.90), (5.95, 1.91), (5.96, 2.39), (6.02, 2.36), (6.02, 2.07),
        (3.61, 0.09), (4.19, 0.33), (2.61, 0.26)]

# ---------------- (h) LAI - high noise: (record, residual) ----------------
H_CROP = [(214, -1.48), (215, -1.31), (216, -1.18), (217, -1.48), (218, -1.22), (219, -1.35),
          (220, -1.16), (221, -1.81), (222, -1.88), (223, -2.21), (224, -1.94), (225, -2.53),
          (226, -2.26), (227, -2.14), (228, -2.04), (229, -1.88), (230, -1.03), (231, -1.13),
          (232, -1.31), (233, -0.46), (234, -0.29), (235, -0.22), (236, -0.17), (237, -0.05),
          (238, -0.54), (239, -0.94), (240, -0.27), (241, -1.11), (242, -1.16), (243, -1.31),
          (244, -1.48), (245, -1.36), (246, -1.38), (247, -1.33), (248, -0.46)]
H_DEC = [(16, -0.83), (17, -1.38), (18, -1.57), (19, -0.90), (21, -1.55), (21, -2.09), (22, -1.16),
         (23, -0.39), (24, -1.44), (25, -1.90), (26, -2.10), (27, -1.07), (28, -1.40), (29, -2.06),
         (30, -3.21), (31, -3.32), (32, -2.09), (33, -1.22), (34, -2.00), (35, -2.46), (36, -1.38),
         (37, -1.13), (38, -1.84), (39, -2.68), (40, -3.02), (41, -2.90), (42, 0.18), (43, -2.53),
         (44, -1.46), (45, -0.15), (46, -3.08), (47, -2.40), (48, -0.39), (49, -2.43), (50, -2.26),
         (51, -3.43), (52, -3.21), (53, -0.07), (54, -2.26), (55, -3.13), (56, -3.56), (57, -3.47),
         (58, -2.58), (59, -1.79), (60, -2.95), (61, -3.08), (62, -0.57), (63, -1.35), (64, -2.56),
         (65, -3.67), (66, -3.76), (67, -2.12), (68, -0.77), (69, -2.56), (70, -1.03), (71, -0.91),
         (72, -2.12), (73, -2.58), (74, -1.00), (75, -0.59), (76, -1.29), (77, -2.68), (78, -2.14),
         (79, -0.98), (80, -1.94), (81, -2.04), (82, -3.05), (83, -2.97), (84, -1.60), (85, -1.29),
         (86, -1.31), (87, -1.67), (88, -0.81), (89, -0.72), (90, -1.33), (91, -2.34), (92, -2.68),
         (93, -1.46)]
H_EB = [(138, -0.72), (139, -0.17), (140, -0.52), (141, -0.20), (142, -0.83), (143, -0.91),
        (145, -0.54), (146, -0.35), (147, -0.44), (148, 0.66), (149, -1.13), (150, 0.35),
        (151, -0.94), (152, 0.39), (153, 0.07), (154, -0.11), (155, -0.39), (156, -0.54),
        (157, -0.04), (158, -1.05), (159, -0.83), (160, -0.20), (161, -0.52), (162, -0.13),
        (163, 0.52), (164, -0.04), (165, -0.24), (166, -0.44), (167, -0.66), (168, 0.22),
        (169, -0.88), (170, -0.52), (171, -0.22), (172, 0.04), (173, 0.11), (174, -0.15),
        (174, 0.13), (175, 0.20), (176, 0.46), (177, -1.11), (179, -1.07), (180, -1.16),
        (181, -1.48), (182, -1.57), (183, -1.03), (184, -0.94), (185, -0.91), (186, -1.03),
        (187, -1.36), (188, -0.32), (189, -1.33), (190, -0.66), (191, -0.02), (192, -0.74),
        (193, -0.57), (194, -0.83), (195, -0.17), (196, -1.42), (197, -0.24), (198, -0.72),
        (199, -0.52), (200, -1.05), (201, -0.15), (202, -0.55), (203, -0.61), (204, -0.66),
        (205, 0.54), (206, -1.05), (207, -0.49), (208, -0.44), (209, -0.32), (210, -0.41),
        (211, -0.39), (212, 0.27), (213, 0.00)]
H_EN = [(94, -2.90), (95, -2.21), (96, -2.68), (97, -2.16), (98, -3.30), (99, -1.44), (100, -2.04),
        (101, -3.37), (102, -3.32), (103, -3.08), (104, -3.32), (105, -2.84), (106, -1.75),
        (107, -3.83), (108, -1.16), (109, -1.13), (110, -1.18), (111, -0.15), (112, -1.20),
        (113, -0.81), (114, -0.69), (115, -0.77), (116, -1.18), (117, -0.24), (118, -0.61),
        (119, -0.69), (120, -1.16), (121, -0.76), (122, -1.00), (123, -1.11), (124, -1.08),
        (125, -1.75), (126, -0.81), (127, -1.18), (128, -0.37), (129, -0.66), (130, -0.46),
        (131, -0.76), (132, -0.96), (133, -1.05), (134, -0.17), (135, -1.22), (136, -0.98),
        (137, -1.22)]
H_MF = [(1, -3.93), (2, -3.56), (4, -3.86), (4, -3.27), (5, -3.98), (6, -4.06), (7, -3.61),
        (8, -3.54), (9, -3.64), (10, -3.76), (10, -4.30), (11, -3.67), (12, -3.60), (13, -2.36),
        (14, -3.36), (15, -4.00)]

RESIDUAL_MEANS = [0.14, -0.40, 0.083, -1.42]  # (b), (f), (d), (h)
STATS = [("0.23", "0.79"), ("1.02", "0.84"), ("0.19", "0.82"), ("1.79", "0.76")]  # (a), (e), (c), (g)
GROUP_TITLES = ["FC \u2013 Low Noise", "LAI \u2013 Low Noise", "FC \u2013 High Noise", "LAI \u2013 High Noise"]

FC_TICKS = [0, 0.2, 0.4, 0.6, 0.8, 1]
LAI_TICKS = [0, 1, 2, 3, 4, 5, 6, 7]
REC_TICKS = [0, 50, 100, 150, 200, 250]

TICK_FONT = dict(family="Liberation Sans, Arial", size=10.5, color="#404040")
TITLE_FONT = dict(family="Liberation Sans, Arial", size=11, color="#404040")
LEGEND_FONT = dict(family="Liberation Sans, Arial", size=10, color="#262626")
CAL_FONT = "Lato, Carlito, Calibri, sans-serif"
AXIS_GRAY = "#A6A6A6"


# positions below are measured on the 1574x716 page; the figure itself sits
# inside the page's default 8px body margin
def px_x(p):
    return (p - PAGE_PAD) / FIG_W


def px_y(p):
    return 1 - (p - PAGE_PAD) / FIG_H


# n, box (left, right, top, bottom) in page px, kind, ranges, ticks, data, label, label pos
PANELS = [
    dict(n=1, box=(43, 388, 38, 312), kind="scatter", xr=[0, 1.2], yr=[0, 1.2], xt=FC_TICKS, yt=FC_TICKS,
         data=[A_CROP, A_DEC, A_EB, A_EN, A_MF], label="(a)", lab=(20, 45),
         stats=STATS[0], stats_pos=(289, 277), legend_box=(52, 187, 47, 115)),
    dict(n=2, box=(429, 773, 39, 311), kind="resid", xr=[0, 250], yr=[-0.4, 0.8], xt=REC_TICKS,
         yt=[-0.4, -0.2, 0, 0.2, 0.4, 0.6, 0.8], data=[B_CROP, B_DEC, B_EB, B_EN, B_MF],
         mean=RESIDUAL_MEANS[0], label="(b)", lab=(413, 57)),
    dict(n=3, box=(825, 1167, 43, 314), kind="scatter", xr=[0, 7], yr=[0, 7], xt=LAI_TICKS, yt=LAI_TICKS,
         data=[E_CROP, E_DEC, E_EB, E_EN, E_MF], label="(e)", lab=(796, 44),
         stats=STATS[1], stats_pos=(1072, 280), legend_box=(834, 966, 51, 119)),
    dict(n=4, box=(1208, 1557, 40, 313), kind="resid", xr=[0, 250], yr=[-3.45, 2.4], xt=REC_TICKS,
         yt=[-3, -2, -1, 0, 1, 2], data=[F_CROP, F_DEC, F_EB, F_EN, F_MF],
         mean=RESIDUAL_MEANS[1], label="(f)", lab=(1184, 62)),
    dict(n=5, box=(46, 392, 399, 672), kind="scatter", xr=[0, 1.2], yr=[0, 1.2], xt=FC_TICKS, yt=FC_TICKS,
         data=[C_CROP, C_DEC, C_EB, C_EN, C_MF], label="(c)", lab=(22, 412),
         stats=STATS[2], stats_pos=(293, 639), legend_box=(55, 190, 406, 475)),
    dict(n=6, box=(439, 783, 402, 673), kind="resid", xr=[0, 250], yr=[-0.4, 0.6], xt=REC_TICKS,
         yt=[-0.4, -0.3, -0.2, -0.1, 0, 0.1, 0.2, 0.3, 0.4, 0.5, 0.6], data=[D_CROP, D_DEC, D_EB, D_EN, D_MF],
         mean=RESIDUAL_MEANS[2], label="(d)", lab=(411, 414)),
    dict(n=7, box=(828, 1171, 399, 671), kind="scatter", xr=[0, 7], yr=[0, 7], xt=LAI_TICKS, yt=LAI_TICKS,
         data=[G_CROP, G_DEC, G_EB, G_EN, G_MF], label="(g)", lab=(802, 410),
         stats=STATS[3], stats_pos=(1034, 423), legend_box=(837, 970, 407, 475)),
    dict(n=8, box=(1210, 1554, 406, 678), kind="resid", xr=[0, 250], yr=[-5, 1], xt=REC_TICKS,
         yt=[-5, -4, -3, -2, -1, 0, 1], data=[H_CROP, H_DEC, H_EB, H_EN, H_MF],
         mean=RESIDUAL_MEANS[3], label="(h)", lab=(1190, 417)),
]

# group title centres in page px
TITLE_POS = [(402, 19), (1241, 24), (414, 373), (1217, 377)]
# legend entry geometry inside each legend box, px
LEG_MARKER_X, LEG_TEXT_X, LEG_ROW0, LEG_ROW_GAP = 19.5, 35, 8.3, 13.3

fig = go.Figure()
layout = {}
annotations = []
legend_axis = 9

for p in PANELS:
    n = p["n"]
    xa = "x" if n == 1 else f"x{n}"
    ya = "y" if n == 1 else f"y{n}"
    left, right, top, bottom = p["box"]
    is_scatter = p["kind"] == "scatter"

    for cls, pts, col, sym, sz in zip(CLASSES, p["data"], COLORS, SYMBOLS, SIZES):
        xs, ys = zip(*pts)
        fig.add_trace(go.Scatter(
            x=xs, y=ys, mode="markers", name=cls,
            marker=dict(symbol=sym, size=sz, color=col, line=dict(width=0)),
            showlegend=False, xaxis=xa, yaxis=ya,
        ))

    if is_scatter:
        fig.add_trace(go.Scatter(
            x=[p["xr"][0], p["xr"][1]], y=[p["yr"][0], p["yr"][1]], mode="lines+markers",
            line=dict(color="#FF0000", width=2.2, dash="10px,6px"),
            marker=dict(size=[0, 5], color="#FF0000"),
            showlegend=False, hoverinfo="skip", xaxis=xa, yaxis=ya,
        ))
    else:
        fig.add_trace(go.Scatter(
            x=[p["xr"][0], p["xr"][1]], y=[p["mean"], p["mean"]], mode="lines",
            line=dict(color="rgba(255,0,0,0.75)", width=2.5),
            showlegend=False, hoverinfo="skip", xaxis=xa, yaxis=ya,
        ))

    common = dict(
        showline=True, mirror="ticks", linecolor=AXIS_GRAY, linewidth=1,
        ticks="inside", ticklen=4, tickcolor=AXIS_GRAY, showgrid=False, zeroline=False,
        tickfont=TICK_FONT, title_font=TITLE_FONT, automargin=False, ticklabeloverflow="allow",
    )
    layout["xaxis" if n == 1 else f"xaxis{n}"] = dict(
        common, domain=[px_x(left), px_x(right)], range=p["xr"], tickvals=p["xt"],
        anchor=ya, title=dict(text="GBOV" if is_scatter else "#record", standoff=3),
    )
    layout["yaxis" if n == 1 else f"yaxis{n}"] = dict(
        common, domain=[px_y(bottom), px_y(top)], range=p["yr"], tickvals=p["yt"],
        anchor=xa, title=dict(text="Predicted" if is_scatter else "Residuals", standoff=6),
    )

    annotations.append(dict(
        text=p["label"], x=px_x(p["lab"][0]), y=px_y(p["lab"][1]), xref="paper", yref="paper",
        xanchor="center", yanchor="middle", showarrow=False,
        font=dict(family=CAL_FONT, size=20, color="#000000"),
    ))

    if is_scatter:
        sx, sy = p["stats_pos"]
        annotations.append(dict(
            text=f"RMSE = {p['stats'][0]}", x=px_x(sx), y=px_y(sy), xref="paper", yref="paper",
            xanchor="left", yanchor="middle", showarrow=False,
            font=dict(family=CAL_FONT, size=17, color="#000000"),
        ))
        annotations.append(dict(
            text=f"R<sup>2</sup> = {p['stats'][1]}", x=px_x(sx), y=px_y(sy + 19),
            xref="paper", yref="paper", xanchor="left", yanchor="middle", showarrow=False,
            font=dict(family=CAL_FONT, size=17, color="#000000"),
        ))

        # compact MATLAB-style legend drawn on a small overlay axis (pixel units)
        ll, lr, lt, lb = p["legend_box"]
        lxa, lya = f"x{legend_axis}", f"y{legend_axis}"
        rows = [LEG_ROW0 + LEG_ROW_GAP * i for i in range(len(CLASSES))]
        fig.add_trace(go.Scatter(
            x=[LEG_MARKER_X] * len(CLASSES), y=rows, mode="markers",
            marker=dict(symbol=SYMBOLS, size=LEGEND_SIZES, color=COLORS, line=dict(width=0)),
            showlegend=False, hoverinfo="skip", cliponaxis=False, xaxis=lxa, yaxis=lya,
        ))
        fig.add_trace(go.Scatter(
            x=[LEG_TEXT_X] * len(CLASSES), y=rows, mode="text", text=CLASSES,
            textposition="middle right", textfont=LEGEND_FONT,
            showlegend=False, hoverinfo="skip", cliponaxis=False, xaxis=lxa, yaxis=lya,
        ))
        frame = dict(showline=True, mirror=True, linecolor="#8C8C8C", linewidth=1,
                     showticklabels=False, ticks="", showgrid=False, zeroline=False,
                     fixedrange=True)
        layout[f"xaxis{legend_axis}"] = dict(frame, domain=[px_x(ll), px_x(lr)], range=[0, lr - ll],
                                             anchor=lya)
        layout[f"yaxis{legend_axis}"] = dict(frame, domain=[px_y(lb), px_y(lt)], range=[lb - lt, 0],
                                             anchor=lxa)
        legend_axis += 1

for text, (cx, cy) in zip(GROUP_TITLES, TITLE_POS):
    annotations.append(dict(
        text=text, x=px_x(cx), y=px_y(cy), xref="paper", yref="paper",
        xanchor="center", yanchor="middle", showarrow=False,
        font=dict(family=CAL_FONT, size=17.5, color="#000000"),
    ))

fig.update_layout(
    **layout,
    annotations=annotations,
    width=FIG_W, height=FIG_H,
    margin=dict(l=0, r=0, t=0, b=0),
    paper_bgcolor="white", plot_bgcolor="white",
    showlegend=False,
)

fig.write_html("out.html")
